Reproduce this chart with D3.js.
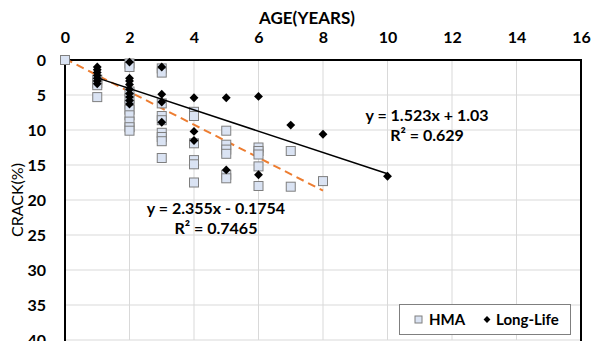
<!DOCTYPE html>
<html>
<head>
<meta charset="utf-8">
<script src="https://cdn.jsdelivr.net/npm/d3@7"></script>
<style>
  body { margin: 0; background: #fff; }
  text { font-family: Lato, "Open Sans", sans-serif; }
</style>
</head>
<body>
<div id="chart"></div>
<script>
// age (years) / crack (%) readings
const hmaAge = [0, 1, 1, 1, 1, 2, 2, 2, 2, 2, 2, 2, 2, 2, 2,
  3, 3, 3, 3, 3, 3, 3, 3, 3, 4, 4, 4, 4, 4, 4,
  5, 5, 5, 5, 5, 5, 6, 6, 6, 6, 6, 7, 7, 8];
const hmaCrack = [0, 2.8, 3.3, 3.6, 5.3, 0.5, 1.0, 4.5, 5.5, 6.4, 7.1, 7.9, 8.8, 9.6, 10.1,
  1.2, 1.8, 6.2, 8.0, 8.6, 10.4, 11.0, 11.6, 14.0, 7.4, 8.0, 11.9, 14.3, 14.9, 17.5,
  10.1, 12.1, 12.8, 13.4, 16.4, 16.9, 12.5, 13.0, 13.5, 15.2, 18.0, 13.0, 18.1, 17.3];

const llAge = [1, 1, 1, 1, 1, 1, 1, 2, 2, 2, 2, 2, 2, 2, 2, 2,
  3, 3, 3, 3, 4, 4, 4, 5, 5, 6, 6, 7, 8, 10];
const llCrack = [1.0, 1.4, 1.8, 2.2, 2.6, 3.0, 3.4, 0.3, 2.6, 3.0, 3.5, 4.2, 4.8, 5.3, 5.8, 6.3,
  1.0, 4.9, 6.0, 8.9, 5.4, 10.2, 11.5, 5.4, 15.7, 5.2, 16.4, 9.3, 10.6, 16.6];

const xTicks = [0, 2, 4, 6, 8, 10, 12, 14, 16];
const yTicks = [0, 5, 10, 15, 20, 25, 30, 35, 40];

// trendlines y = m x + b
const hmaFit = { m: 2.355, b: -0.1754, from: 0, to: 8 };
const llFit = { m: 1.523, b: 1.03, from: 1, to: 10 };

const width = 599, height = 341;
const plotL = 65, plotR = 581, plotT = 60, plotB = 340;

const svg = d3.select("#chart").append("svg")
    .attr("width", width)
    .attr("height", height);

const x = d3.scaleLinear().domain([0, 16]).range([plotL, plotR]);
const y = d3.scaleLinear().domain([0, 40]).range([plotT, plotB]);

// grid
svg.append("g")
    .selectAll("line")
    .data(xTicks.slice(1))
    .join("line")
    .attr("x1", d => x(d)).attr("x2", d => x(d))
    .attr("y1", plotT).attr("y2", plotB)
    .attr("stroke", "#d9d9d9").attr("stroke-width", 1);

svg.append("g")
    .selectAll("line")
    .data(yTicks.slice(1))
    .join("line")
    .attr("x1", plotL).attr("x2", plotR)
    .attr("y1", d => y(d)).attr("y2", d => y(d))
    .attr("stroke", "#d9d9d9").attr("stroke-width", 1);

// axes
const xAxis = svg.append("g")
    .attr("transform", `translate(0,${plotT})`)
    .call(d3.axisTop(x).tickValues(xTicks).tickSize(0).tickPadding(17));
xAxis.select(".domain").remove();
xAxis.selectAll("text")
    .style("font-size", "16px").style("font-weight", "bold")
    .attr("fill", "#000")
    .style("font-family", "Lato, 'Open Sans', sans-serif");

const yAxis = svg.append("g")
    .attr("transform", `translate(${plotL},0)`)
    .call(d3.axisLeft(y).tickValues(yTicks).tickSize(0).tickPadding(19));
yAxis.select(".domain").remove();
yAxis.selectAll("text")
    .style("font-size", "16px").style("font-weight", "bold")
    .attr("fill", "#000")
    .style("font-family", "Lato, 'Open Sans', sans-serif");

// frame
svg.append("path")
    .attr("d", `M${plotL},${plotB + 5}V${plotT}H${plotR}V${plotB + 5}`)
    .attr("fill", "none")
    .attr("stroke", "#000")
    .attr("stroke-width", 2);

// titles
svg.append("text")
    .attr("x", 307).attr("y", 24)
    .attr("text-anchor", "middle")
    .style("font-size", "17px").style("font-weight", "bold")
    .text("AGE(YEARS)");

svg.append("text")
    .attr("transform", "translate(23,200) rotate(-90)")
    .attr("text-anchor", "middle")
    .style("font-size", "16px")
    .text("CRACK(%)");

// trendlines
function fitLine(f) {
    return [[f.from, f.m * f.from + f.b], [f.to, f.m * f.to + f.b]];
}
const line = d3.line().x(d => x(d[0])).y(d => y(d[1]));

svg.append("path")
    .attr("d", line(fitLine(hmaFit)))
    .attr("stroke", "#ed7d31").attr("stroke-width", 2)
    .attr("stroke-dasharray", "8,5")
    .attr("fill", "none");

// markers
const hma = hmaAge.map((a, i) => ({ a, c: hmaCrack[i] }));
const ll = llAge.map((a, i) => ({ a, c: llCrack[i] }));

svg.append("g")
    .selectAll("rect")
    .data(hma)
    .join("rect")
    .attr("x", d => x(d.a) - 4.5)
    .attr("y", d => y(d.c) - 4.5)
    .attr("width", 9).attr("height", 9)
    .attr("fill", "#dae3f3")
    .attr("stroke", "#7f7f7f").attr("stroke-width", 1);

const diamond = d3.symbol().type(d3.symbolDiamond2).size(50);
svg.append("g")
    .selectAll("path")
    .data(ll)
    .join("path")
    .attr("transform", d => `translate(${x(d.a)},${y(d.c)})`)
    .attr("d", diamond)
    .attr("fill", "#000");

svg.append("path")
    .attr("d", line(fitLine(llFit)))
    .attr("stroke", "#000").attr("stroke-width", 1.5)
    .attr("fill", "none");

// equations
const eq = [
    { t: "y = 1.523x + 1.03", x: 427, y: 121 },
    { t: "R² = 0.629", x: 427, y: 141 },
    { t: "y = 2.355x - 0.1754", x: 216, y: 214 },
    { t: "R² = 0.7465", x: 216, y: 234 }
];
svg.append("g")
    .selectAll("text")
    .data(eq)
    .join("text")
    .attr("x", d => d.x).attr("y", d => d.y)
    .attr("text-anchor", "middle")
    .style("font-size", "16px").style("font-weight", "bold")
    .text(d => d.t);

// legend
const lg = svg.append("g");
lg.append("rect")
    .attr("x", 399.5).attr("y", 304.5)
    .attr("width", 171).attr("height", 30)
    .attr("fill", "#fff").attr("stroke", "#7f7f7f");
lg.append("rect")
    .attr("x", 415).attr("y", 316)
    .attr("width", 7).attr("height", 7)
    .attr("fill", "#dae3f3").attr("stroke", "#7f7f7f");
lg.append("text")
    .attr("x", 429).attr("y", 325)
    .style("font-size", "15px").style("font-weight", "bold")
    .text("HMA");
lg.append("path")
    .attr("transform", "translate(487,319.5)")
    .attr("d", d3.symbol().type(d3.symbolDiamond2).size(30))
    .attr("fill", "#000");
lg.append("text")
    .attr("x", 496).attr("y", 325)
    .style("font-size", "15px").style("font-weight", "bold")
    .text("Long-Life");
</script>
</body>
</html>
